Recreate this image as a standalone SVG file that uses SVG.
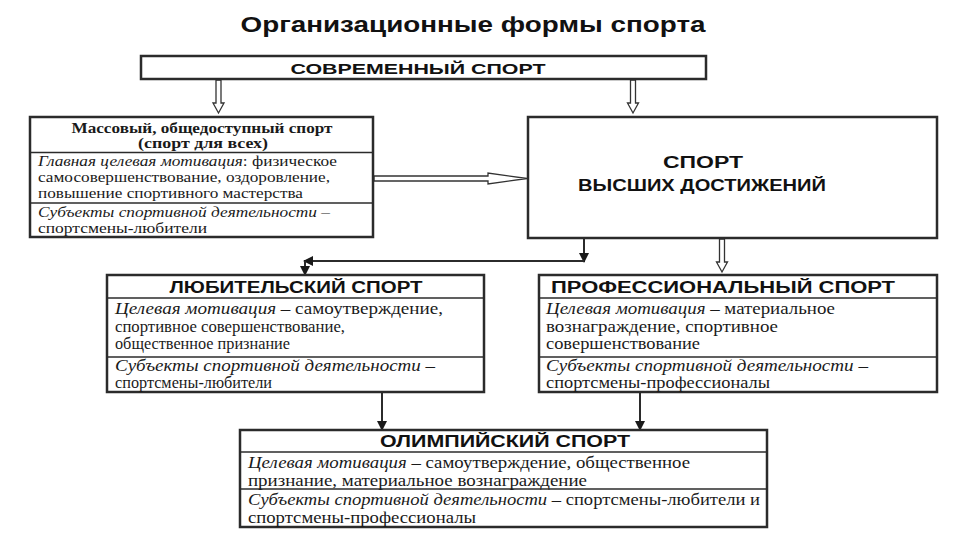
<svg xmlns="http://www.w3.org/2000/svg" width="960" height="540" viewBox="0 0 960 540">
<defs>
<style>
.box{fill:#fff;stroke:#2b2b2b;stroke-width:2.5}
.div{stroke:#2b2b2b;stroke-width:1.6}
.hdr{font-family:"Liberation Sans",Arial,sans-serif;font-weight:bold;fill:#111;text-anchor:middle}
.body{font-family:"Liberation Serif","Times New Roman",serif;fill:#1a1a1a}
.it{font-style:italic}
.hollow{fill:#fff;stroke:#333;stroke-width:1.3;stroke-linejoin:miter}
.conn{stroke:#2b2b2b;stroke-width:2;fill:none}
</style>
<marker id="ah" viewBox="0 0 10 10" refX="9" refY="5" markerWidth="5" markerHeight="5" orient="auto" markerUnits="strokeWidth">
<path d="M0,0 L10,5 L0,10 z" fill="#1a1a1a"/>
</marker>
</defs>
<rect width="960" height="540" fill="#fff"/>
<text x="473" y="32" font-family="'Liberation Sans',Arial,sans-serif" font-weight="bold" font-size="22" fill="#111" text-anchor="middle" textLength="465" lengthAdjust="spacingAndGlyphs">Организационные формы спорта</text>

<g id="connectors">
<polygon class="hollow" points="216,80 216,103 213,103 218.5,113 224,103 221,103 221,80"/>
<polygon class="hollow" points="630.5,80 630.5,103 627.5,103 633,113 638.5,103 635.5,103 635.5,80"/>
<polygon class="hollow" points="374,176 488,176 488,173 527,178.5 488,184 488,181 374,181"/>
<polygon class="hollow" points="719.5,239 719.5,262 716.5,262 722,272 727.5,262 724.5,262 724.5,239"/>
<line class="conn" x1="584" y1="238" x2="584" y2="262" marker-end="url(#ah)"/>
<line class="conn" x1="584" y1="261" x2="304" y2="261" marker-end="url(#ah)"/>
<line class="conn" x1="305" y1="261" x2="305" y2="275" marker-end="url(#ah)"/>
<line class="conn" x1="382" y1="393" x2="382" y2="430" marker-end="url(#ah)"/>
<line class="conn" x1="640" y1="393" x2="640" y2="430" marker-end="url(#ah)"/>
</g>

<g id="modern">
<rect class="box" x="141" y="56" width="565" height="23"/>
<text class="hdr" x="418" y="73.5" font-size="15" textLength="255" lengthAdjust="spacingAndGlyphs">СОВРЕМЕННЫЙ СПОРТ</text>
</g>

<g id="mass">
<rect class="box" x="30" y="117" width="343" height="120"/>
<line class="div" x1="30" y1="152.5" x2="373" y2="152.5"/>
<line class="div" x1="30" y1="203" x2="373" y2="203"/>
<text class="body" x="202" y="133" font-size="14" font-weight="bold" text-anchor="middle" textLength="261" lengthAdjust="spacingAndGlyphs">Массовый, общедоступный спорт</text>
<text class="body" x="203" y="148" font-size="14" font-weight="bold" text-anchor="middle" textLength="130" lengthAdjust="spacingAndGlyphs">(спорт для всех)</text>
<text class="body" x="38" y="166" font-size="14" textLength="299" lengthAdjust="spacingAndGlyphs"><tspan class="it">Главная целевая мотивация</tspan>: физическое</text>
<text class="body" x="38" y="182" font-size="14" textLength="292" lengthAdjust="spacingAndGlyphs">самосовершенствование, оздоровление,</text>
<text class="body" x="38" y="198" font-size="14" textLength="265" lengthAdjust="spacingAndGlyphs">повышение спортивного мастерства</text>
<text class="body" x="38" y="217" font-size="14" textLength="292" lengthAdjust="spacingAndGlyphs"><tspan class="it">Субъекты спортивной деятельности</tspan> –</text>
<text class="body" x="38" y="233" font-size="14" textLength="169" lengthAdjust="spacingAndGlyphs">спортсмены-любители</text>
</g>

<g id="elite">
<rect class="box" x="528" y="117" width="409" height="121"/>
<text class="hdr" x="703" y="168" font-size="16" textLength="80" lengthAdjust="spacingAndGlyphs">СПОРТ</text>
<text class="hdr" x="702" y="191" font-size="16" textLength="248" lengthAdjust="spacingAndGlyphs">ВЫСШИХ ДОСТИЖЕНИЙ</text>
</g>

<g id="amateur">
<rect class="box" x="107" y="275" width="377" height="117"/>
<line class="div" x1="107" y1="298" x2="484" y2="298"/>
<line class="div" x1="107" y1="357" x2="484" y2="357"/>
<text class="hdr" x="296" y="293" font-size="16" textLength="253" lengthAdjust="spacingAndGlyphs">ЛЮБИТЕЛЬСКИЙ СПОРТ</text>
<text class="body" x="115" y="314" font-size="16" textLength="328" lengthAdjust="spacingAndGlyphs"><tspan class="it">Целевая мотивация</tspan> – самоутверждение,</text>
<text class="body" x="115" y="332" font-size="16" textLength="230" lengthAdjust="spacingAndGlyphs">спортивное совершенствование,</text>
<text class="body" x="115" y="349" font-size="16" textLength="175" lengthAdjust="spacingAndGlyphs">общественное признание</text>
<text class="body" x="115" y="371" font-size="16" textLength="320" lengthAdjust="spacingAndGlyphs"><tspan class="it">Субъекты спортивной деятельности</tspan> –</text>
<text class="body" x="115" y="388" font-size="16" textLength="157" lengthAdjust="spacingAndGlyphs">спортсмены-любители</text>
</g>

<g id="professional">
<rect class="box" x="539" y="275" width="398" height="117"/>
<line class="div" x1="539" y1="298" x2="937" y2="298"/>
<line class="div" x1="539" y1="357" x2="937" y2="357"/>
<text class="hdr" x="723" y="293" font-size="16" textLength="344" lengthAdjust="spacingAndGlyphs">ПРОФЕССИОНАЛЬНЫЙ СПОРТ</text>
<text class="body" x="546" y="314" font-size="16" textLength="289" lengthAdjust="spacingAndGlyphs"><tspan class="it">Целевая мотивация</tspan> – материальное</text>
<text class="body" x="546" y="332" font-size="16" textLength="232" lengthAdjust="spacingAndGlyphs">вознаграждение, спортивное</text>
<text class="body" x="546" y="349" font-size="16" textLength="154" lengthAdjust="spacingAndGlyphs">совершенствование</text>
<text class="body" x="546" y="371" font-size="16" textLength="322" lengthAdjust="spacingAndGlyphs"><tspan class="it">Субъекты спортивной деятельности</tspan> –</text>
<text class="body" x="546" y="388" font-size="16" textLength="224" lengthAdjust="spacingAndGlyphs">спортсмены-профессионалы</text>
</g>

<g id="olympic">
<rect class="box" x="240" y="430" width="527" height="97"/>
<line class="div" x1="240" y1="452" x2="767" y2="452"/>
<line class="div" x1="240" y1="489" x2="767" y2="489"/>
<text class="hdr" x="505" y="447" font-size="16" textLength="250" lengthAdjust="spacingAndGlyphs">ОЛИМПИЙСКИЙ СПОРТ</text>
<text class="body" x="248" y="468" font-size="16" textLength="442" lengthAdjust="spacingAndGlyphs"><tspan class="it">Целевая мотивация</tspan> – самоутверждение, общественное</text>
<text class="body" x="248" y="486" font-size="16" textLength="339" lengthAdjust="spacingAndGlyphs">признание, материальное вознаграждение</text>
<text class="body" x="248" y="505" font-size="16" textLength="512" lengthAdjust="spacingAndGlyphs"><tspan class="it">Субъекты спортивной деятельности</tspan> – спортсмены-любители и</text>
<text class="body" x="248" y="523" font-size="16" textLength="228" lengthAdjust="spacingAndGlyphs">спортсмены-профессионалы</text>
</g>
</svg>
